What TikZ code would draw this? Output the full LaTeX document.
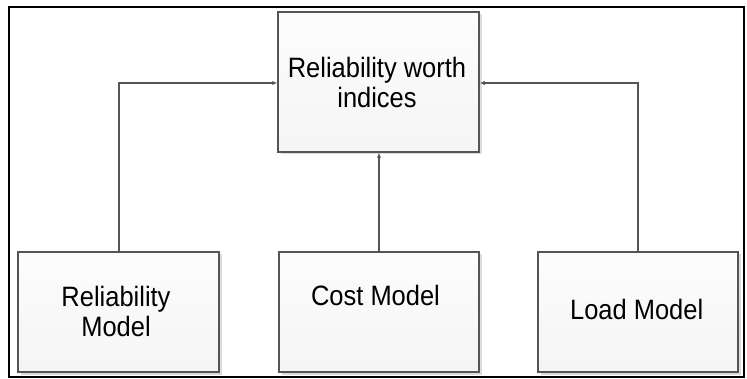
\documentclass[tikz,border=0pt]{standalone}
\usepackage{fontspec}
\setmainfont{Liberation Sans}
\usetikzlibrary{arrows.meta,shadows}
\definecolor{edge}{HTML}{555555}
% narrow set of the label face
\newcommand{\narrow}[1]{\scalebox{0.91}[1]{#1}}
\tikzset{
  block/.style={draw=edge, line width=1.5pt, rectangle, inner sep=0pt,
    top color=white!98!gray, bottom color=gray!8,
    drop shadow={shadow xshift=2.5pt, shadow yshift=-2.5pt, fill=gray!30, opacity=0.9}},
  label/.style={font=\fontsize{28}{30}\selectfont, align=center, inner sep=0pt, anchor=base},
  link/.style={draw=edge, line width=1.4pt, -{Latex[length=5pt,width=4.5pt]}}
}
\begin{document}
\begin{tikzpicture}[x=1pt,y=-1pt]
  \useasboundingbox (0,0) rectangle (747,379);
  \fill[white] (0,0) rectangle (747,379);
  % outer frame
  \draw[black, line width=2.6pt] (9,7) rectangle (744,377);

  % blocks
  \node[block, minimum width=201pt, minimum height=140pt] (top) at (378.5,82) {};
  \node[block, minimum width=201pt, minimum height=120pt] (rel) at (118.5,312) {};
  \node[block, minimum width=200pt, minimum height=120pt] (cost) at (379,312) {};
  \node[block, minimum width=200pt, minimum height=120pt] (load) at (638,312) {};

  % labels (placed by the baseline of their last line)
  \node[label] (toptext) at (377,107.3) {\narrow{Reliability worth}\\\narrow{indices}};
  \node[label] (reltext) at (116,336.7) {\narrow{Reliability}\\\narrow{Model}};
  \node[label] (costtext) at (375.5,306) {\narrow{Cost Model}};
  \node[label] (loadtext) at (636.7,319.3) {\narrow{Load Model}};

  % connectors
  \coordinate (lj) at (119,83);
  \coordinate (rj) at (638,83);
  \draw[link] (rel.north -| lj) -- (lj) -- (lj -| top.west);
  \draw[link] (load.north -| rj) -- (rj) -- (rj -| top.east);
  \draw[link] (cost.north) -- (cost.north |- top.south);
\end{tikzpicture}
\end{document}
